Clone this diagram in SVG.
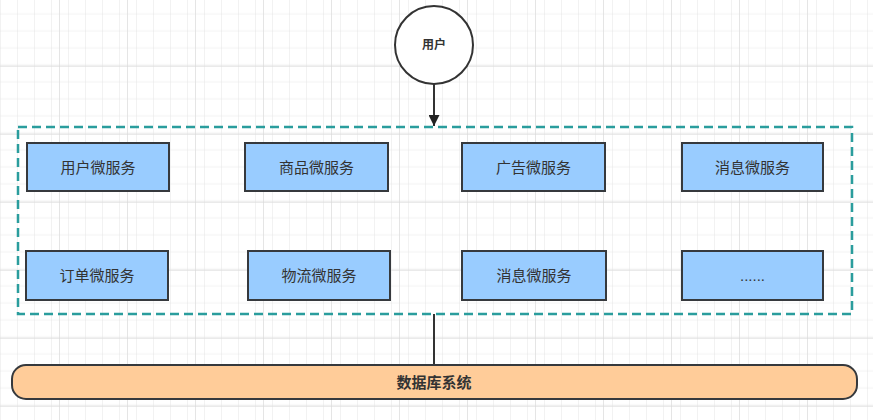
<svg xmlns="http://www.w3.org/2000/svg" width="873" height="420" viewBox="0 0 873 420">
  <defs>
    <pattern id="minor" x="-8" y="-1.3" width="17" height="17" patternUnits="userSpaceOnUse">
      <path d="M17 0 V17 M0 17 H17" fill="none" stroke="#e4e4e4" stroke-width="1"/>
    </pattern>
    <pattern id="major" x="-8" y="-1.3" width="68" height="68" patternUnits="userSpaceOnUse">
      <rect width="68" height="68" fill="url(#minor)"/>
      <path d="M68 0 V68 M0 68 H68" fill="none" stroke="#d8d8d8" stroke-width="1.3"/>
    </pattern>
    <marker id="arrowBig" viewBox="0 0 10 10" refX="10" refY="5" markerWidth="18" markerHeight="11" markerUnits="userSpaceOnUse" orient="auto">
      <path d="M0 0 L10 5 L0 10 Z" fill="#222"/>
    </marker>
  </defs>
  <style>
    .svc rect { fill: #99CCFF; stroke: #36393d; stroke-width: 2; }
    .lbl { font-family: "Liberation Sans", "Noto Sans CJK SC", sans-serif; font-size: 15px; fill: #333333; text-anchor: middle; dominant-baseline: central; }
    .conn { stroke: #333333; stroke-width: 2; fill: none; }
  </style>
  <rect width="873" height="420" fill="#ffffff"/>
  <rect width="873" height="420" fill="url(#major)"/>

  <g id="connectors">
    <line class="conn" x1="434" y1="84" x2="434" y2="126" marker-end="url(#arrowBig)"/>
    <line class="conn" x1="434" y1="314" x2="434" y2="365"/>
  </g>

  <g id="user">
    <circle cx="434" cy="45" r="39" fill="#ffffff" stroke="#333333" stroke-width="2"/>
    <text class="lbl" x="434" y="45" style="font-size:12px;font-weight:bold">用户</text>
  </g>

  <g id="services-container">
    <rect x="18" y="127" width="834" height="187" fill="none" stroke="#2a9d9d" stroke-width="2.5" stroke-dasharray="9 5"/>
  </g>

  <g id="svc-user" class="svc"><rect x="27" y="143" width="142" height="48"/><text class="lbl" x="98" y="167">用户微服务</text></g>
  <g id="svc-goods" class="svc"><rect x="245" y="143" width="143" height="48"/><text class="lbl" x="316.5" y="167">商品微服务</text></g>
  <g id="svc-ad" class="svc"><rect x="462" y="143" width="143" height="48"/><text class="lbl" x="533.5" y="167">广告微服务</text></g>
  <g id="svc-msg1" class="svc"><rect x="682" y="143" width="141" height="48"/><text class="lbl" x="752.5" y="167">消息微服务</text></g>

  <g id="svc-order" class="svc"><rect x="26" y="251" width="142" height="49"/><text class="lbl" x="97" y="275.5">订单微服务</text></g>
  <g id="svc-logistics" class="svc"><rect x="248" y="251" width="142" height="49"/><text class="lbl" x="319" y="275.5">物流微服务</text></g>
  <g id="svc-msg2" class="svc"><rect x="462" y="251" width="144" height="49"/><text class="lbl" x="534" y="275.5">消息微服务</text></g>
  <g id="svc-more" class="svc"><rect x="682" y="251" width="141" height="49"/><text class="lbl" x="752.5" y="275.5">......</text></g>

  <g id="database">
    <rect x="12" y="365" width="845" height="34" rx="14" ry="14" fill="#FFCC99" stroke="#36393d" stroke-width="2"/>
    <text class="lbl" x="434" y="382" style="font-weight:bold">数据库系统</text>
  </g>
</svg>
